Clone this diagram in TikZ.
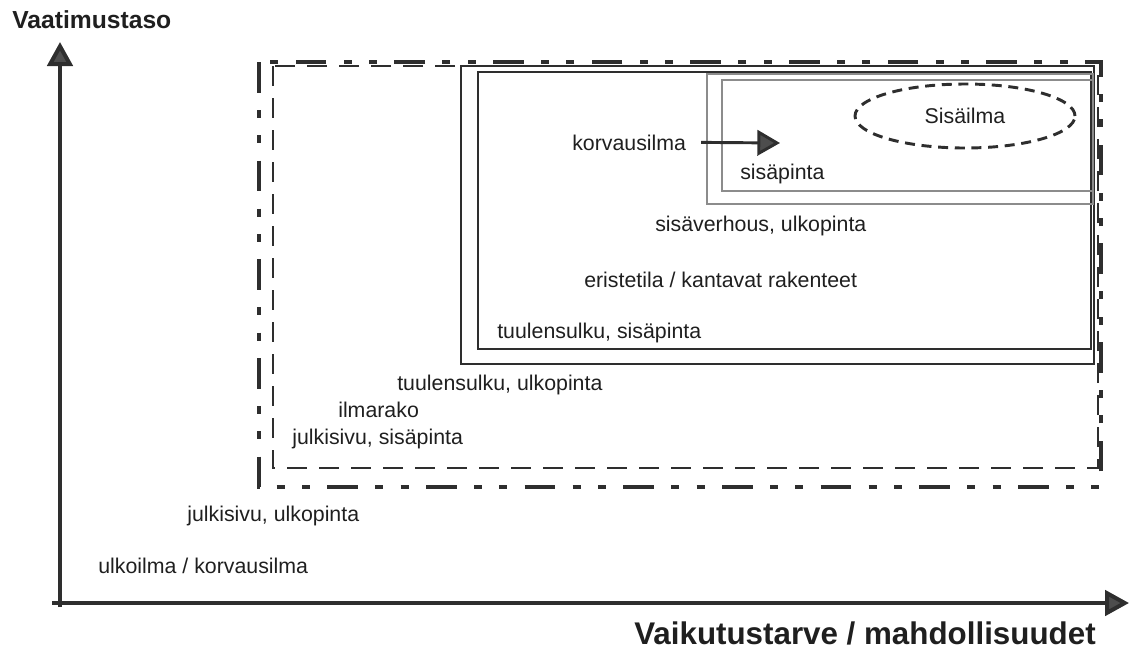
\documentclass[tikz,border=0pt]{standalone}
\usepackage{fontspec}
\setmainfont{Liberation Sans}
\usetikzlibrary{positioning}
\usetikzlibrary{arrows.meta}
\usetikzlibrary{shapes.geometric}

\definecolor{ink}{HTML}{2E2E2E}
\definecolor{hatch}{HTML}{8C8C8C}

\begin{document}
\begin{tikzpicture}[x=0.75pt, y=-0.75pt,
        every node/.style={inner sep=0pt, anchor=base west, text=black!88, font=\fontsize{16}{19}\selectfont},
        axis/.style={draw=ink, line width=3pt, -{Triangle[length=18pt, width=19pt, fill=ink!85]}},
        axislabel/.style={font=\fontsize{18.5}{22}\selectfont\bfseries},
        dashdotdot/.style={draw=ink, line width=2.6pt, dash pattern=on 23pt off 13pt on 6pt off 13pt on 6pt off 13pt},
        dashbox/.style={draw=ink, line width=2pt, dash pattern=on 15pt off 9pt},
        wallbox/.style={draw=ink, line width=1.8pt},
        hatchbox/.style={draw=hatch, line width=2.2pt}]
        \useasboundingbox (0,0) rectangle (1130,651);

        % axes
        \coordinate (ytip) at (60,42);
        \coordinate (xtip) at (1129,603);
        \draw[axis] (60,607) -- (ytip);
        \draw[axis] (52,603) -- (xtip);
        \node[axislabel] (vaatimus) at (12,28) {Vaatimustaso};
        \node[axislabel, font=\fontsize{23.5}{27}\selectfont\bfseries] (vaikutus) at (634,644) {Vaikutustarve / mahdollisuudet};

        % layers from outside in
        \draw[dashdotdot] (259,62) rectangle (1101,487);
        \draw[dashbox] (273,66) rectangle (1098,468);
        \draw[wallbox] (461,66) rectangle (1094,364);
        \draw[wallbox] (478,72) rectangle (1091,349);
        \draw[hatchbox] (707,74) rectangle (1093,204);
        \draw[hatchbox] (722,80) rectangle (1093,191);

        \node[draw=ink, ellipse, line width=2.2pt, dash pattern=on 7.5pt off 5pt, anchor=center,
              minimum width=165pt, minimum height=48pt] (sisailma) at (965,116) {Sisäilma};

        \node (korvaus) at (572,150) {korvausilma};
        \coordinate (korvaus end) at (780,143);
        \draw[draw=ink, line width=2.2pt, -{Triangle[length=17pt, width=19pt, fill=ink!85]}] ([xshift=11pt]korvaus.east) -- (korvaus end);

        \node (sisapinta) at (740,179) {sisäpinta};
        \node (verhous) at (655,231) {sisäverhous, ulkopinta};
        \node (eriste) at (584,287) {eristetila / kantavat rakenteet};
        \node (tuuli in) at (497,338) {tuulensulku, sisäpinta};
        \node (tuuli out) at (397,390) {tuulensulku, ulkopinta};
        \node (ilmarako) at (338,417) {ilmarako};
        \node (julki in) at (292,444) {julkisivu, sisäpinta};
        \node (julki out) at (187,521) {julkisivu, ulkopinta};
        \node (ulkoilma) at (98,573) {ulkoilma / korvausilma};
    \end{tikzpicture}
\end{document}
